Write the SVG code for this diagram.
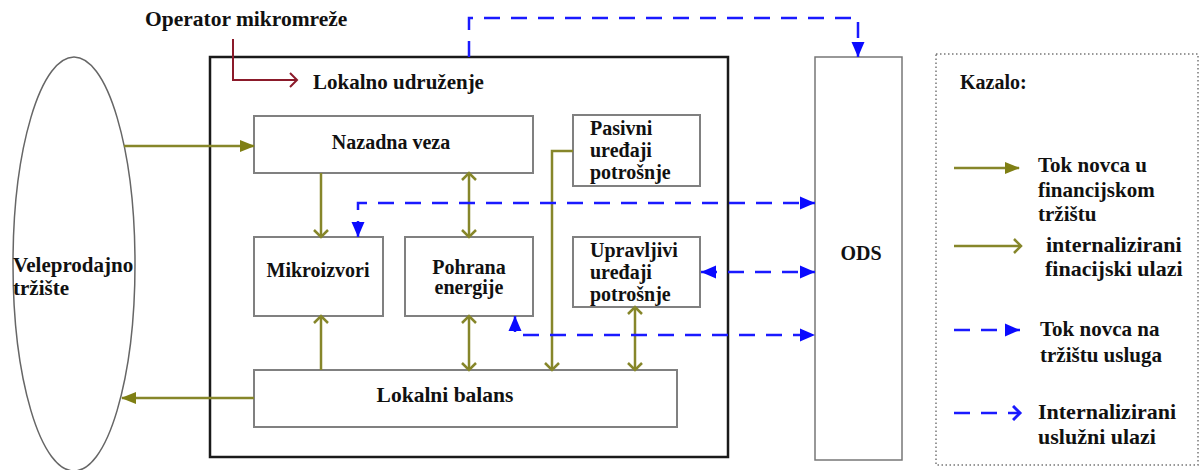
<svg xmlns="http://www.w3.org/2000/svg" width="1203" height="470" viewBox="0 0 1203 470">
<style>
text{font-family:"Liberation Serif","Times New Roman",serif;font-weight:bold;font-size:20px;fill:#111}
.l21{font-size:21px}
.l22{font-size:22px}
.box{fill:#fff;stroke:#808080;stroke-width:2}
.olive{fill:none;stroke:#86862a;stroke-width:2.5}
.blue{fill:none;stroke:#1a1aff;stroke-width:2.5;stroke-dasharray:16 11}
.red{fill:none;stroke:#8b1a2a;stroke-width:2}
.mid{text-anchor:middle}
</style>
<defs>
<marker id="of" markerUnits="userSpaceOnUse" markerWidth="16" markerHeight="14" refX="14" refY="7" orient="auto-start-reverse"><path d="M0,1 L15,7 L0,13 z" fill="#7f7f14"/></marker>
<marker id="oc" markerUnits="userSpaceOnUse" markerWidth="12" markerHeight="16" refX="8" refY="8" orient="auto-start-reverse"><path d="M1,1 L8,8 L1,15" fill="none" stroke="#86862a" stroke-width="2.5"/></marker>
<marker id="bf" markerUnits="userSpaceOnUse" markerWidth="16" markerHeight="14" refX="15" refY="7" orient="auto-start-reverse"><path d="M0,0.5 L15,7 L0,13.5 z" fill="#0a0aff"/></marker>
<marker id="bc" markerUnits="userSpaceOnUse" markerWidth="12" markerHeight="16" refX="8" refY="8" orient="auto-start-reverse"><path d="M1,1 L8,8 L1,15" fill="none" stroke="#1a1aff" stroke-width="3"/></marker>
<marker id="rc" markerUnits="userSpaceOnUse" markerWidth="12" markerHeight="16" refX="8" refY="8" orient="auto"><path d="M1,1 L8,8 L1,15" fill="none" stroke="#8b1a2a" stroke-width="2"/></marker>
</defs>

<g id="veleprodajno">
<ellipse cx="74" cy="264" rx="61" ry="207" fill="#fff" stroke="#666" stroke-width="1.5"/>
<text class="l21" x="13" y="272">Veleprodajno</text>
<text class="l21" x="13" y="295">tržište</text>
</g>

<g id="operator">
<text x="145" y="26" style="font-size:21.5px">Operator mikromreže</text>
</g>

<g id="lokalno-udruzenje">
<rect x="210" y="57" width="518" height="400" fill="none" stroke="#1a1a1a" stroke-width="2.5"/>
<text class="l21" x="313" y="89">Lokalno udruženje</text>
</g>

<g id="nazadna-veza">
<rect class="box" x="254" y="116" width="279" height="57"/>
<text class="mid" x="391" y="149">Nazadna veza</text>
</g>

<g id="pasivni">
<rect class="box" x="573" y="115" width="127" height="71"/>
<text x="590" y="135">Pasivni</text>
<text x="590" y="157">uređaji</text>
<text x="590" y="179">potrošnje</text>
</g>

<g id="mikroizvori">
<rect class="box" x="254" y="237" width="129" height="79"/>
<text class="mid" x="318" y="277">Mikroizvori</text>
</g>

<g id="pohrana">
<rect class="box" x="405" y="237" width="128" height="79"/>
<text class="mid" x="469" y="274">Pohrana</text>
<text class="mid" x="469" y="294">energije</text>
</g>

<g id="upravljivi">
<rect class="box" x="573" y="237" width="127" height="70"/>
<text x="590" y="257">Upravljivi</text>
<text x="590" y="279">uređaji</text>
<text x="590" y="301">potrošnje</text>
</g>

<g id="lokalni-balans">
<rect class="box" x="254" y="370" width="423" height="57"/>
<text class="mid" x="445" y="402" style="font-size:21.5px">Lokalni balans</text>
</g>

<g id="ods">
<rect x="815" y="57" width="87" height="403" fill="#fff" stroke="#777" stroke-width="1.5"/>
<text class="mid" x="861" y="260">ODS</text>
</g>

<g id="connectors">
<path class="red" d="M233,39 V80 H297" marker-end="url(#rc)"/>
<path class="olive" d="M124,146 H254" marker-end="url(#of)"/>
<path class="olive" d="M254,398 H122" marker-end="url(#of)"/>
<path class="olive" d="M321,173 V237" marker-end="url(#oc)"/>
<path class="olive" d="M469,173 V237" marker-start="url(#oc)" marker-end="url(#oc)"/>
<path class="olive" d="M321,370 V316" marker-end="url(#oc)"/>
<path class="olive" d="M469,316 V370" marker-start="url(#oc)" marker-end="url(#oc)"/>
<path class="olive" d="M573,151 H552 V370" marker-end="url(#oc)"/>
<path class="olive" d="M635,307 V370" marker-start="url(#oc)" marker-end="url(#oc)"/>
<path class="blue" d="M469,57 V18 H858 V57" marker-end="url(#bf)"/>
<path class="blue" d="M358,237 V203 H815" marker-start="url(#bf)" marker-end="url(#bf)"/>
<path class="blue" d="M701,272 H815" marker-start="url(#bf)" marker-end="url(#bf)"/>
<path class="blue" d="M515,316 V335 H815" marker-start="url(#bf)" marker-end="url(#bf)"/>
</g>

<g id="legend">
<rect x="936" y="54" width="262" height="411" fill="none" stroke="#777" stroke-width="1.5" stroke-dasharray="1.5 2.5"/>
<text x="960" y="89">Kazalo:</text>
<path class="olive" d="M954,168 H1019" marker-end="url(#of)"/>
<text class="l21" x="1038" y="172">Tok novca u</text>
<text class="l21" x="1038" y="197">financijskom</text>
<text class="l21" x="1038" y="221">tržištu</text>
<path class="olive" d="M954,246 H1021" marker-end="url(#oc)"/>
<text class="l22" x="1046" y="252">internalizirani</text>
<text class="l22" x="1045" y="276">finacijski ulazi</text>
<path class="blue" d="M954,330 H1020" marker-end="url(#bf)"/>
<text class="l21" x="1040" y="336">Tok novca na</text>
<text class="l21" x="1040" y="362">tržištu usluga</text>
<path class="blue" d="M954,413 H1020" marker-end="url(#bc)"/>
<text class="l22" x="1038" y="419">Internalizirani</text>
<text class="l22" x="1038" y="444">uslužni ulazi</text>
</g>
</svg>
